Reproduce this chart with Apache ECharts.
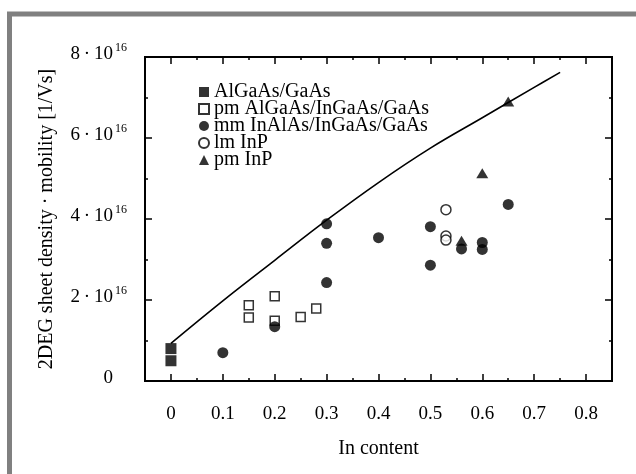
<!DOCTYPE html>
<html>
<head>
<meta charset="utf-8">
<script src="https://cdn.jsdelivr.net/npm/echarts@6/dist/echarts.min.js"></script>
<style>
html, body { margin: 0; padding: 0; background: #fff; }
#main { width: 636px; height: 474px; }
</style>
</head>
<body>
<div id="main"></div>
<script>
// values, y in units of 1e16 1/Vs
var algaasX = [0, 0];
var algaasY = [0.8, 0.5];
var pmAlgaasX = [0.15, 0.15, 0.2, 0.2, 0.25, 0.28];
var pmAlgaasY = [1.87, 1.57, 2.09, 1.49, 1.58, 1.79];
var mmX = [0.1, 0.2, 0.3, 0.3, 0.3, 0.4, 0.5, 0.5, 0.56, 0.6, 0.6, 0.65];
var mmY = [0.70, 1.34, 3.88, 3.40, 2.43, 3.54, 3.81, 2.86, 3.26, 3.42, 3.25, 4.36];
var lmInpX = [0.53, 0.53, 0.53];
var lmInpY = [4.23, 3.58, 3.48];
var pmInpX = [0.56, 0.6, 0.65];
var pmInpY = [3.46, 5.13, 6.9];
var curveX = [0, 0.1, 0.2, 0.3, 0.4, 0.5, 0.6, 0.7, 0.75];
var curveY = [0.93, 1.98, 2.98, 3.97, 4.9, 5.75, 6.5, 7.25, 7.62];
var xMajor = [0, 0.1, 0.2, 0.3, 0.4, 0.5, 0.6, 0.7, 0.8];
var xMinor = [0.05, 0.15, 0.25, 0.35, 0.45, 0.55, 0.65, 0.75];
var names = ['AlGaAs/GaAs', 'pm AlGaAs/InGaAs/GaAs', 'mm InAlAs/InGaAs/GaAs', 'lm InP', 'pm InP'];

function pairs(xs, ys){
	var out = [];
	for (var i = 0; i < xs.length; i++) out.push([xs[i], ys[i]]);
	return out;
}

var font = 'Liberation Serif';
var myChart = echarts.init(document.getElementById('main'));

function xAx(pos, ticks, len, labels){
	return {
		type: 'value', position: pos, min: -0.05, max: 0.85,
		axisLine: {show: false, onZero: false},
		splitLine: {show: false},
		axisTick: {show: true, inside: true, length: len, customValues: ticks,
			lineStyle: {color: '#000', width: 1.5}},
		axisLabel: labels ? {show: true, customValues: xMajor, margin: 24,
			fontFamily: font, fontSize: 19, color: '#000',
			formatter: function (v) { return String(+v.toFixed(2)); }} : {show: false}
	};
}
function yAx(pos, labels){
	return {
		type: 'value', position: pos, min: 0, max: 8, interval: 2,
		axisLine: {show: false, onZero: false},
		splitLine: {show: false},
		axisTick: {show: true, inside: true, length: 7, lineStyle: {color: '#000', width: 1.5}},
		minorTick: {show: true, splitNumber: 2, length: 3, lineStyle: {color: '#000', width: 1.5}},
		axisLabel: labels ? {
			show: true, margin: 18, padding: [0, 0, 8, 0],
			formatter: function (v) {
				if (v === 0) return '{m|0}{s| }';
				return '{m|' + v + '\u2009·\u200910}{s|16}';
			},
			rich: {
				m: {fontFamily: font, fontSize: 19, color: '#000', lineHeight: 22, padding: [6, 0, 0, 0], verticalAlign: 'bottom'},
				s: {fontFamily: font, fontSize: 12, color: '#000', lineHeight: 14, width: 13, padding: [0, 0, 0, 1], verticalAlign: 'top'}
			}
		} : {show: false}
	};
}

var xa = [xAx('bottom', xMajor, 7, true), xAx('bottom', xMinor, 3, false),
	xAx('top', xMajor, 7, false), xAx('top', xMinor, 3, false)];
xa[0].name = 'In content';
xa[0].nameLocation = 'middle';
xa[0].nameGap = 58;
xa[0].nameTextStyle = {fontFamily: font, fontSize: 20, color: '#000'};
var ya = [yAx('left', true), yAx('right', false)];
ya[0].name = '2DEG sheet density · mobility [1/Vs]';
ya[0].nameLocation = 'middle';
ya[0].nameGap = 88;
ya[0].nameTextStyle = {fontFamily: font, fontSize: 20, color: '#000'};

option = {
	backgroundColor: '#fff',
	animation: false,
	grid: {left: 145, top: 57, right: 24, bottom: 93, show: true,
		borderColor: '#000', borderWidth: 2, backgroundColor: 'transparent'},
	xAxis: xa,
	yAxis: ya,
	legend: {
		data: names, orient: 'vertical', left: 193, top: 77,
		itemWidth: 10, itemHeight: 10, itemGap: -3,
		textStyle: {fontFamily: font, fontSize: 20, color: '#000'}
	},
	graphic: [{
		type: 'rect', silent: true,
		shape: {x: 9.5, y: 14, width: 700, height: 600},
		style: {fill: 'none', stroke: '#808080', lineWidth: 5}
	}],
	series: [
		{type: 'line', data: pairs(curveX, curveY), smooth: 0.4, symbol: 'none',
			lineStyle: {color: '#000', width: 1.6}, z: 1},
		{name: names[0], type: 'scatter', data: pairs(algaasX, algaasY), symbol: 'rect', symbolSize: 11,
			itemStyle: {color: '#000'}, z: 3},
		{name: names[1], type: 'scatter', data: pairs(pmAlgaasX, pmAlgaasY), symbol: 'rect', symbolSize: 9,
			itemStyle: {color: '#fff', borderColor: '#000', borderWidth: 1.5}, z: 3},
		{name: names[2], type: 'scatter', data: pairs(mmX, mmY), symbol: 'circle', symbolSize: 11,
			itemStyle: {color: '#000'}, z: 4},
		{name: names[3], type: 'scatter', data: pairs(lmInpX, lmInpY), symbol: 'circle', symbolSize: 10,
			itemStyle: {color: '#fff', borderColor: '#000', borderWidth: 1.5}, z: 3},
		{name: names[4], type: 'scatter', data: pairs(pmInpX, pmInpY), symbol: 'triangle', symbolSize: [12, 10],
			itemStyle: {color: '#000'}, z: 3}
	]
};
myChart.setOption(option);
</script>
</body>
</html>
